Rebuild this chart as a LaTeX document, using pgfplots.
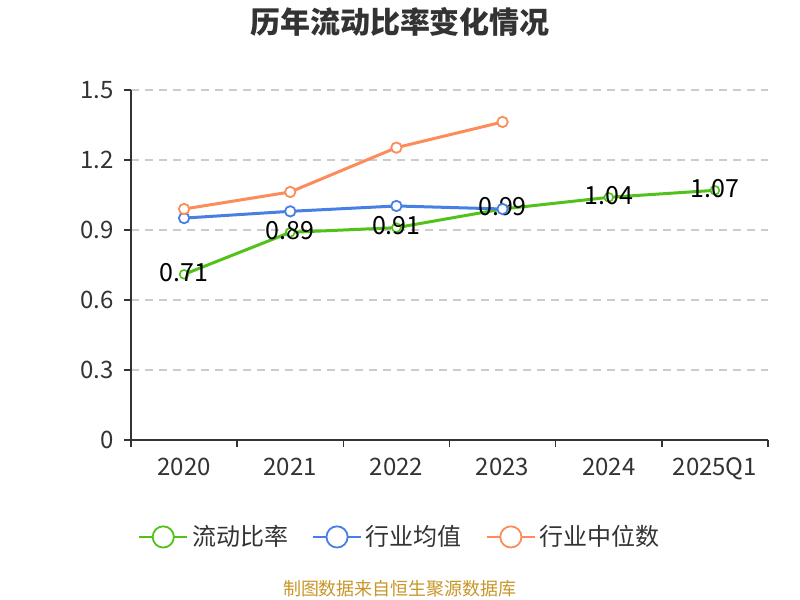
\documentclass[border=0pt]{standalone}
\usepackage{pgfplots}
\pgfplotsset{compat=1.18}
\usepackage{fontspec}
\setmainfont{Noto Sans CJK SC}
\definecolor{cgreen}{RGB}{82,194,26}
\definecolor{cblue}{RGB}{72,127,226}
\definecolor{corange}{RGB}{252,140,90}
\definecolor{cfoot}{RGB}{200,150,40}
\definecolor{ctext}{RGB}{51,51,51}
\definecolor{cgrid}{RGB}{204,204,204}
\begin{document}
\begin{tikzpicture}
\useasboundingbox (0pt,0pt) rectangle (400pt,300pt);
\node[font=\bfseries\fontsize{15pt}{18pt}\selectfont, text=ctext] at (200pt,289pt) {历年流动比率变化情况};
\node[font=\fontsize{9pt}{11pt}\selectfont, text=cfoot] at (200pt,5.5pt) {制图数据来自恒生聚源数据库};
\begin{axis}[
  at={(65.5pt,80pt)}, anchor=south west,
  scale only axis, width=318.5pt, height=175pt,
  /pgf/number format/assume math mode=true,
  xmin=-0.5, xmax=5.5, ymin=0, ymax=1.5,
  xtick={-0.5,0.5,...,5.5},
  x tick label as interval,
  xticklabels={2020,2021,2022,2023,2024,2025Q1},
  ytick={0,0.3,0.6,0.9,1.2,1.5},
  yticklabels={0,0.3,0.6,0.9,1.2,1.5},
  axis x line=bottom, axis y line=left,
  axis line style={-, line width=0.8pt, color=ctext},
  tick align=outside,
  major tick length=3.5pt,
  tick style={line width=0.8pt, color=ctext},
  ymajorgrids,
  grid style={dashed, dash pattern=on 4pt off 3pt, line width=0.7pt, color=cgrid},
  ticklabel style={font=\fontsize{12pt}{14pt}\selectfont, text=ctext},
  xticklabel style={yshift=-2pt},
  yticklabel style={xshift=-1.5pt},
  legend style={draw=none, fill=none, at={(0.424,-0.277)}, anchor=center,
    font=\fontsize{12pt}{14pt}\selectfont, text=ctext,
    /tikz/every even column/.append style={column sep=10pt}},
  legend columns=3,
  legend cell align=left,
]
\addplot[color=cgreen, line width=1.5pt, mark=*, mark size=2.2pt,
  mark options={fill=white, line width=0.8pt},
  nodes near coords={\pgfmathprintnumber[fixed,precision=2,zerofill]{\pgfplotspointmeta}},
  nodes near coords style={anchor=center, yshift=1pt, text=black, font=\fontsize{12.5pt}{14pt}\selectfont},
  point meta=y,
  legend image code/.code={\draw[cgreen, line width=0.9pt] (0pt,0pt) -- (24pt,0pt); \draw[cgreen, fill=white, line width=0.9pt] (12pt,0pt) circle (5.3pt);}]
  coordinates {(0,0.71) (1,0.89) (2,0.91) (3,0.99) (4,1.04) (5,1.07)};
\addlegendentry{流动比率}
\addplot[color=cblue, line width=1.5pt, mark=*, mark size=2.6pt,
  mark options={fill=white, line width=0.9pt},
  legend image code/.code={\draw[cblue, line width=0.9pt] (0pt,0pt) -- (24pt,0pt); \draw[cblue, fill=white, line width=0.9pt] (12pt,0pt) circle (5.3pt);}]
  coordinates {(0,0.951) (1,0.980) (2,1.003) (3,0.990)};
\addlegendentry{行业均值}
\addplot[color=corange, line width=1.5pt, mark=*, mark size=2.6pt,
  mark options={fill=white, line width=0.9pt},
  legend image code/.code={\draw[corange, line width=0.9pt] (0pt,0pt) -- (24pt,0pt); \draw[corange, fill=white, line width=0.9pt] (12pt,0pt) circle (5.3pt);}]
  coordinates {(0,0.990) (1,1.063) (2,1.253) (3,1.363)};
\addlegendentry{行业中位数}
\end{axis}
\end{tikzpicture}
\end{document}
